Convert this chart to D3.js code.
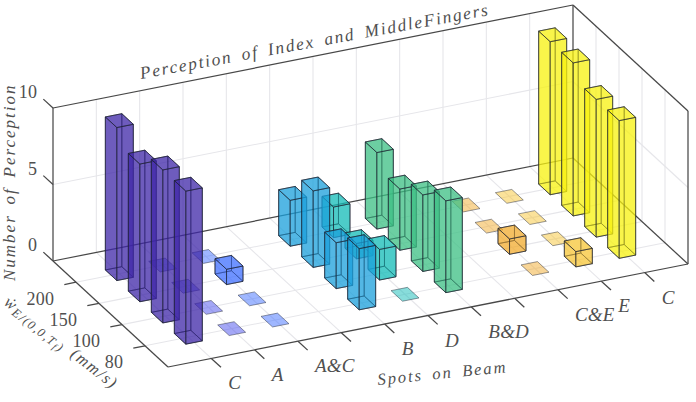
<!DOCTYPE html>
<html>
<head>
<meta charset="utf-8">
<script src="https://cdnjs.cloudflare.com/ajax/libs/d3/7.8.5/d3.min.js"></script>
<style>
  html, body { margin: 0; padding: 0; background: #fff; }
  svg { display: block; }
  text { font-family: "Liberation Serif", serif; fill: #505050; }
</style>
</head>
<body>
<svg id="chart" width="696" height="402"></svg>
<script>
// Spot categories along the beam, speed categories across it
const spotLabels = ["C", "A", "A&C", "", "B", "D", "B&D", "", "C&E", "E", "C"];
const speedLabels = ["80", "100", "150", "200"];
const heightTicks = [0, 5, 10];

// Perception counts per speed, one entry per spot; null leaves the spot empty
const speed80  = [10, 0, 0, null, 4, 0, 6, null, 0, 1, 9];
const speed100 = [10, 0, 0, null, 3, 2, 5, null, 1, 0, 9];
const speed150 = [ 9, 0, 1, null, 5, 1, 4, null, 0, 0, 10];
const speed200 = [10, 0, 0, null, 3, 2, 5, null, 0, 0, 10];
const speedRows = [speed80, speed100, speed150, speed200];

// One colour per spot column
const columnColors = ["#3e26a8", "#4a50ee", "#3f70ff", "#2a93e6", "#1aa0dc",
                      "#12bcb8", "#3cc083", "#d8b84a", "#f2ab2e", "#f7c536", "#f7f20e"];

const svg = d3.select("#chart");

// Oblique projection of the plot box: each data axis contributes a screen offset
const origin = { x: 168, y: 367 };
const spotX = d3.scaleLinear().domain([0, 12]).range([0, 520]);
const spotY = d3.scaleLinear().domain([0, 12]).range([0, -103]);
const speedX = d3.scaleLinear().domain([0, 5]).range([0, -115]);
const speedY = d3.scaleLinear().domain([0, 5]).range([0, -106]);
const heightY = d3.scaleLinear().domain([0, 10]).range([0, -153]);

const project = (u, v, z = 0) => [
  origin.x + spotX(u) + speedX(v),
  origin.y + spotY(u) + speedY(v) + heightY(z)
];
const path = d3.line();
const segment = (a, b) => path([project(...a), project(...b)]);

const gridLayer = svg.append("g").attr("fill", "none").attr("stroke", "#e6e6ea").attr("stroke-width", 1.1);
const spotTicks = d3.range(1, 12);
const speedTicks = d3.range(1, 5);

spotTicks.forEach(u => {
  gridLayer.append("path").attr("d", segment([u, 0, 0], [u, 5, 0]));
  gridLayer.append("path").attr("d", segment([u, 5, 0], [u, 5, 10]));
});
speedTicks.forEach(v => {
  gridLayer.append("path").attr("d", segment([0, v, 0], [12, v, 0]));
  gridLayer.append("path").attr("d", segment([12, v, 0], [12, v, 10]));
});
gridLayer.append("path").attr("d", segment([0, 5, 5], [12, 5, 5]));
gridLayer.append("path").attr("d", segment([12, 5, 5], [12, 0, 5]));

// Box edges
const boxEdges = [
  [[0, 5, 0], [12, 5, 0]], [[12, 5, 0], [12, 0, 0]], [[0, 0, 0], [12, 0, 0]], [[0, 0, 0], [0, 5, 0]],
  [[0, 5, 0], [0, 5, 10]], [[12, 5, 0], [12, 5, 10]], [[12, 0, 0], [12, 0, 10]],
  [[0, 5, 10], [12, 5, 10]], [[12, 5, 10], [12, 0, 10]]
];
const axisLayer = svg.append("g").attr("fill", "none").attr("stroke", "#484848").attr("stroke-width", 1.25);
boxEdges.forEach(([a, b]) => axisLayer.append("path").attr("d", segment(a, b)));

// Tick marks pointing out of the box
spotTicks.forEach(u => axisLayer.append("path").attr("d", segment([u, 0, 0], [u, -0.42, 0])));
speedTicks.forEach(v => axisLayer.append("path").attr("d", segment([0, v, 0], [-0.27, v, 0])));
heightTicks.forEach(z => axisLayer.append("path").attr("d", segment([0, 5, z], [0, 5.42, z])));

// Bars, painted from the far corner toward the viewer
const halfSpot = 0.19, halfSpeed = 0.25;
const cells = [];
speedRows.forEach((row, r) => row.forEach((value, c) => {
  if (value !== null) cells.push({ u: c + 1, v: r + 1, value, color: columnColors[c] });
}));
cells.sort((a, b) => (b.u + b.v) - (a.u + a.v));

const barLayer = svg.append("g");
cells.forEach(cell => {
  const u0 = cell.u - halfSpot, u1 = cell.u + halfSpot;
  const v0 = cell.v - halfSpeed, v1 = cell.v + halfSpeed;
  const h = cell.value;
  const top = [[u0, v0, h], [u1, v0, h], [u1, v1, h], [u0, v1, h]];
  // A zero count collapses to a single flat tile on the floor
  const faces = h === 0 ? [top] : [
    [[u0, v0, 0], [u1, v0, 0], [u1, v1, 0], [u0, v1, 0]],
    [[u1, v0, 0], [u1, v1, 0], [u1, v1, h], [u1, v0, h]],
    [[u0, v1, 0], [u1, v1, 0], [u1, v1, h], [u0, v1, h]],
    [[u0, v0, 0], [u0, v1, 0], [u0, v1, h], [u0, v0, h]],
    [[u0, v0, 0], [u1, v0, 0], [u1, v0, h], [u0, v0, h]],
    top
  ];
  barLayer.append("g").selectAll("path").data(faces).join("path")
    .attr("d", f => path(f.map(p => project(...p))) + "Z")
    .attr("fill", cell.color)
    .attr("fill-opacity", 0.5)
    .attr("stroke", "#1c2230")
    .attr("stroke-opacity", h === 0 ? 0.5 : 0.7)
    .attr("stroke-width", 0.9)
    .attr("stroke-linejoin", "round");
});

// Tick labels
const labelLayer = svg.append("g").attr("font-style", "italic").attr("font-size", 19);
spotLabels.forEach((label, i) => {
  if (!label) return;
  const [x, y] = project(i + 1, 0);
  labelLayer.append("text").attr("x", x + 17).attr("y", y + 31)
    .attr("letter-spacing", 0.2).text(label);
});

const numberLayer = svg.append("g").attr("font-size", 18);
speedLabels.forEach((label, i) => {
  const [x, y] = project(-0.27, i + 1);
  numberLayer.append("text").attr("x", x - 10).attr("y", y + 20)
    .attr("text-anchor", "end").attr("letter-spacing", 0.3).text(label);
});
heightTicks.forEach(z => {
  const [x, y] = project(0, 5.42, z);
  numberLayer.append("text").attr("x", x - 6).attr("y", y - 1)
    .attr("text-anchor", "end").attr("letter-spacing", 0.3).text(z);
});

// Axis titles set along the box edges
const title = (x, y, angle, size, spacing, label) => svg.append("text")
  .attr("transform", `translate(${x},${y}) rotate(${angle})`)
  .attr("font-style", "italic").attr("font-size", size)
  .attr("letter-spacing", spacing).attr("word-spacing", 3.5)
  .text(label);

title(141, 79, -10.4, 17.5, 1.75, "Perception of Index and MiddleFingers");
title(378, 385, -5.7, 16.5, 1.95, "Spots on Beam");
title(15, 281, -90, 17, 2, "Number of Perception");

const speedTitle = title(3, 304, 38, 16.5, 1.5, "ẇ");
speedTitle.append("tspan").attr("dy", 3).attr("font-size", 12.5).text("E/(0,0,T");
speedTitle.append("tspan").attr("dy", 2).attr("font-size", 9.5).text("f");
speedTitle.append("tspan").attr("dy", -2).attr("font-size", 12.5).text(")");
speedTitle.append("tspan").attr("dy", -3).attr("dx", 9).text("(mm/s)");
</script>
</body>
</html>
